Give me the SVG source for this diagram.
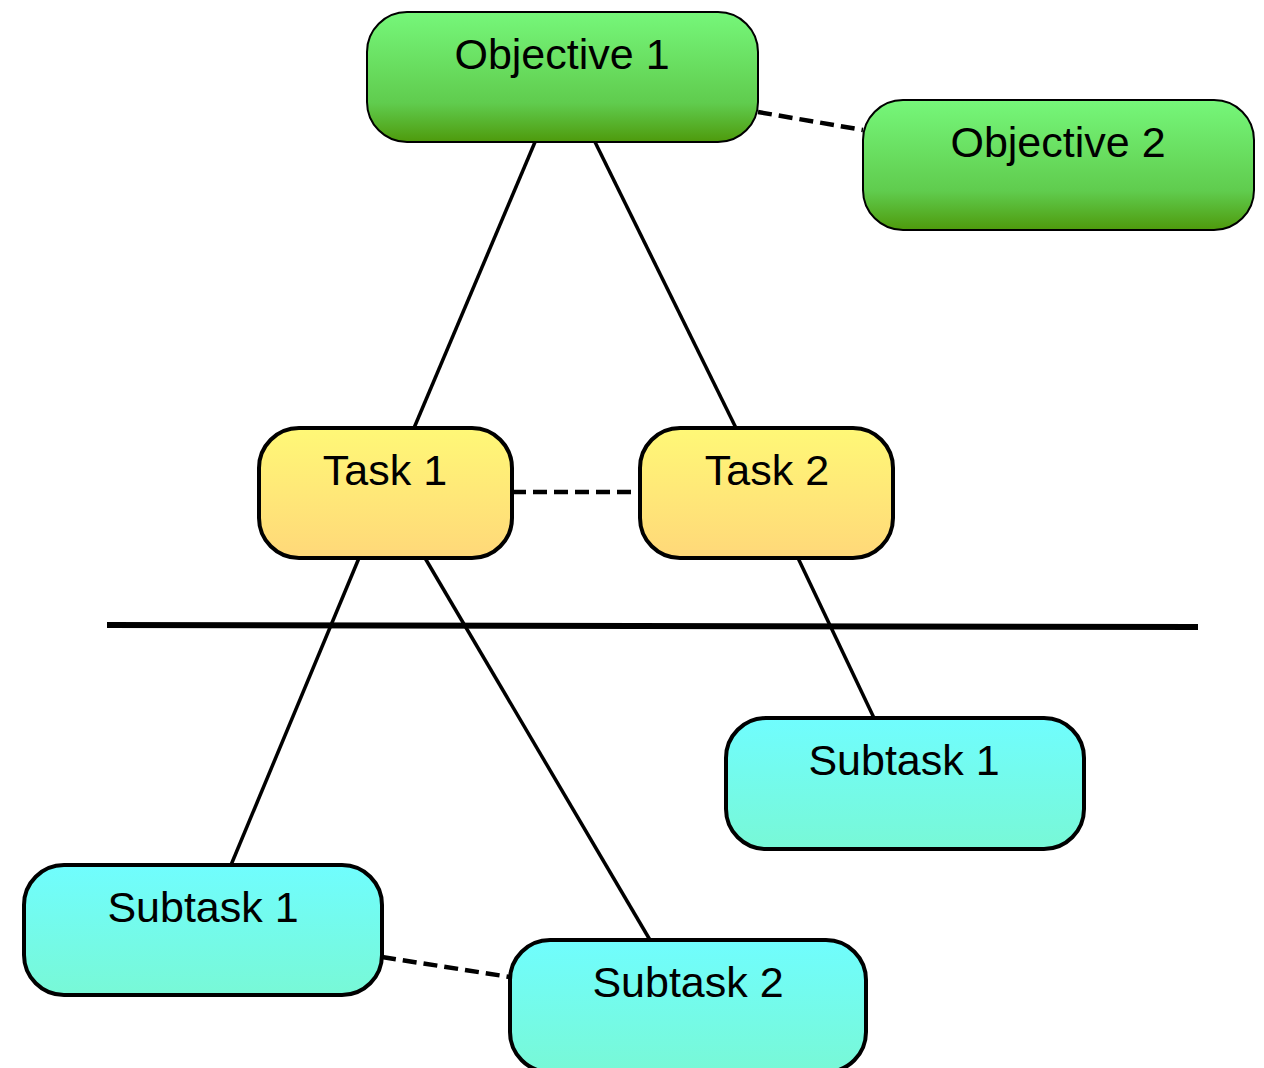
<svg xmlns="http://www.w3.org/2000/svg" width="1264" height="1068" viewBox="0 0 1264 1068">
<defs>
<linearGradient id="gGreen" x1="0" y1="0" x2="0" y2="1">
<stop offset="0" stop-color="#76f77a"/>
<stop offset="0.7" stop-color="#60cc4e"/>
<stop offset="1" stop-color="#4e9a0c"/>
</linearGradient>
<linearGradient id="gYellow" x1="0" y1="0" x2="0" y2="1">
<stop offset="0" stop-color="#fff877"/>
<stop offset="1" stop-color="#ffd879"/>
</linearGradient>
<linearGradient id="gCyan" x1="0" y1="0" x2="0" y2="1">
<stop offset="0" stop-color="#70fdfe"/>
<stop offset="1" stop-color="#78f8d6"/>
</linearGradient>
</defs>
<style>
.obj{fill:url(#gGreen);stroke:#000;stroke-width:2}
.task{fill:url(#gYellow);stroke:#000;stroke-width:4}
.sub{fill:url(#gCyan);stroke:#000;stroke-width:4}
.lbl{font-family:"Liberation Sans","DejaVu Sans",sans-serif;font-size:43px;fill:#000;text-anchor:middle}
.solid{stroke:#000;stroke-width:3.5;fill:none}
.dash{stroke:#000;stroke-width:4.5;fill:none;stroke-dasharray:14 7}
.divider{stroke:#000;stroke-width:6}
</style>
<g id="connectors">
<line class="solid" x1="535" y1="142" x2="414" y2="428"/>
<line class="solid" x1="595" y1="142" x2="736" y2="428"/>
<line class="dash" x1="758" y1="112" x2="863" y2="130"/>
<line class="dash" x1="512" y1="492" x2="640" y2="492"/>
<line class="solid" x1="359" y1="558" x2="231" y2="865"/>
<line class="solid" x1="425" y1="558" x2="650" y2="940"/>
<line class="solid" x1="798" y1="558" x2="874" y2="718"/>
<line class="dash" x1="382" y1="957" x2="510" y2="977"/>
</g>
<line id="divider" class="divider" x1="107" y1="625" x2="1198" y2="627"/>
<g id="objective1">
<rect class="obj" x="367" y="12" width="391" height="130" rx="40"/>
<text class="lbl" x="562" y="69">Objective 1</text>
</g>
<g id="objective2">
<rect class="obj" x="863" y="100" width="391" height="130" rx="40"/>
<text class="lbl" x="1058" y="157">Objective 2</text>
</g>
<g id="task1">
<rect class="task" x="259" y="428" width="253" height="130" rx="40"/>
<text class="lbl" x="385" y="485">Task 1</text>
</g>
<g id="task2">
<rect class="task" x="640" y="428" width="253" height="130" rx="40"/>
<text class="lbl" x="767" y="485">Task 2</text>
</g>
<g id="subtask1right">
<rect class="sub" x="726" y="718" width="358" height="131" rx="40"/>
<text class="lbl" x="904" y="775">Subtask 1</text>
</g>
<g id="subtask1left">
<rect class="sub" x="24" y="865" width="358" height="130" rx="40"/>
<text class="lbl" x="203" y="922">Subtask 1</text>
</g>
<g id="subtask2">
<rect class="sub" x="510" y="940" width="356" height="132" rx="40"/>
<text class="lbl" x="688" y="997">Subtask 2</text>
</g>
</svg>
